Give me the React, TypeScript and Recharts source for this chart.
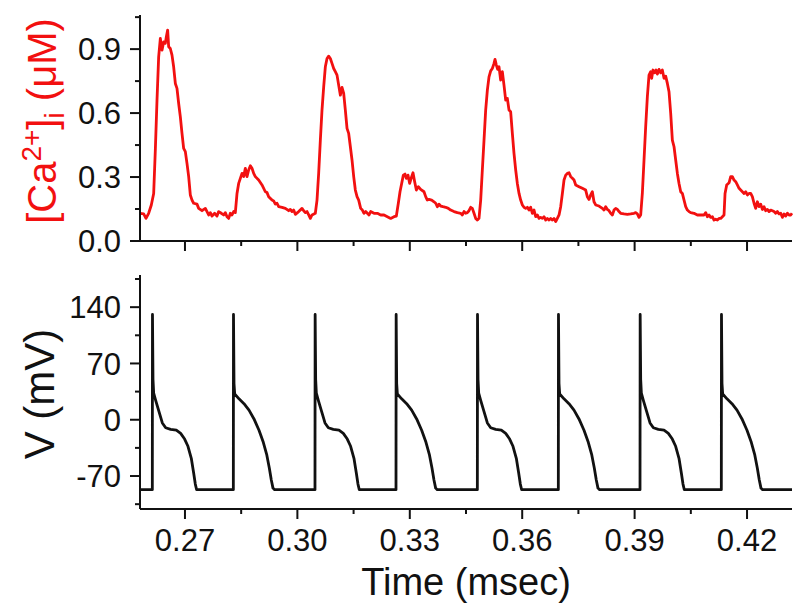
import { LineChart, Line, XAxis, YAxis, Label } from 'recharts';

const FONT = "'Liberation Sans', Arial, Helvetica, sans-serif";
const RED = '#f21010';
const INK = '#111';

// shared time axis
const timeDomain = [0.258, 0.432];
const timeTicks = [0.27, 0.285, 0.3, 0.315, 0.33, 0.345, 0.36, 0.375, 0.39, 0.405, 0.42];
const timeLabels = [0.27, 0.3, 0.33, 0.36, 0.39, 0.42];

// calcium panel
const caDomain = [0, 1.06];
const caTicks = [0, 0.15, 0.3, 0.45, 0.6, 0.75, 0.9, 1.05];
const caLabels = [0, 0.3, 0.6, 0.9];

// voltage panel
const vDomain = [-111, 180];
const vTicks = [-105, -70, -35, 0, 35, 70, 105, 140, 175];
const vLabels = [-70, 0, 70, 140];

// [Ca2+]i trace: [time, uM]
const caTrace: [number, number][] = [
  [0.258, 0.13], [0.25898, 0.127], [0.2596, 0.106], [0.26031, 0.13], [0.26102, 0.169], [0.26165, 0.223],
  [0.26209, 0.427], [0.26254, 0.661], [0.26298, 0.864], [0.26343, 0.95], [0.26387, 0.895], [0.26432, 0.934],
  [0.26476, 0.927], [0.26503, 0.958], [0.26538, 0.989], [0.26565, 0.911], [0.26609, 0.903], [0.26654, 0.872],
  [0.26698, 0.817], [0.26743, 0.739], [0.26787, 0.716], [0.26832, 0.645], [0.26876, 0.583], [0.26921, 0.505],
  [0.26965, 0.434], [0.2701, 0.419], [0.27054, 0.364], [0.27099, 0.302], [0.27143, 0.216], [0.27188, 0.192],
  [0.27232, 0.177], [0.27321, 0.173], [0.27366, 0.153], [0.27455, 0.142], [0.27544, 0.153], [0.27588, 0.138],
  [0.27633, 0.122], [0.27677, 0.133], [0.27722, 0.117], [0.27793, 0.13], [0.27855, 0.117], [0.27899, 0.138],
  [0.27971, 0.13], [0.28033, 0.122], [0.28077, 0.133], [0.28122, 0.114], [0.28166, 0.106], [0.28211, 0.13],
  [0.28255, 0.122], [0.283, 0.138], [0.28344, 0.133], [0.28389, 0.223], [0.28433, 0.27], [0.28478, 0.294],
  [0.28522, 0.317], [0.28567, 0.302], [0.28611, 0.341], [0.28656, 0.302], [0.287, 0.333], [0.28745, 0.353],
  [0.28789, 0.341], [0.28834, 0.317], [0.28878, 0.302], [0.28967, 0.286], [0.29056, 0.263], [0.29145, 0.231],
  [0.2919, 0.227], [0.29234, 0.208], [0.29323, 0.192], [0.29368, 0.188], [0.29412, 0.173], [0.29457, 0.177],
  [0.29501, 0.161], [0.2959, 0.158], [0.29679, 0.153], [0.29768, 0.142], [0.29812, 0.148], [0.29857, 0.138],
  [0.29901, 0.145], [0.29946, 0.125], [0.30035, 0.138], [0.30124, 0.153], [0.30168, 0.142], [0.30213, 0.133],
  [0.30257, 0.138], [0.30302, 0.122], [0.30346, 0.106], [0.30391, 0.122], [0.30479, 0.13], [0.30524, 0.192],
  [0.30568, 0.317], [0.30613, 0.473], [0.30657, 0.614], [0.30702, 0.723], [0.30746, 0.817], [0.30791, 0.856],
  [0.30835, 0.867], [0.3088, 0.856], [0.30924, 0.833], [0.30969, 0.809], [0.31013, 0.794], [0.31058, 0.778],
  [0.31102, 0.731], [0.31147, 0.684], [0.31191, 0.72], [0.31236, 0.692], [0.3128, 0.614], [0.31325, 0.528],
  [0.31369, 0.505], [0.31414, 0.442], [0.31458, 0.38], [0.31503, 0.302], [0.31547, 0.239], [0.31592, 0.208],
  [0.31636, 0.192], [0.31689, 0.153], [0.31734, 0.145], [0.31778, 0.13], [0.31823, 0.138], [0.31867, 0.13],
  [0.31912, 0.122], [0.31956, 0.138], [0.32045, 0.13], [0.32134, 0.13], [0.32223, 0.122], [0.32312, 0.122],
  [0.32401, 0.114], [0.3249, 0.106], [0.32579, 0.114], [0.32641, 0.117], [0.32694, 0.177], [0.32739, 0.231],
  [0.32783, 0.27], [0.32828, 0.309], [0.32872, 0.314], [0.32908, 0.294], [0.32952, 0.309], [0.32997, 0.27],
  [0.3305, 0.302], [0.33086, 0.32], [0.3313, 0.278], [0.33175, 0.239], [0.33228, 0.255], [0.3329, 0.242],
  [0.33379, 0.231], [0.33424, 0.208], [0.33468, 0.192], [0.33513, 0.195], [0.33584, 0.192], [0.33646, 0.184],
  [0.33691, 0.177], [0.33735, 0.161], [0.3378, 0.173], [0.33824, 0.164], [0.33886, 0.161], [0.33958, 0.158],
  [0.34029, 0.153], [0.34091, 0.145], [0.3418, 0.138], [0.34269, 0.133], [0.34358, 0.13], [0.34402, 0.122],
  [0.34447, 0.138], [0.34491, 0.13], [0.34536, 0.133], [0.3458, 0.142], [0.34625, 0.158], [0.34669, 0.153],
  [0.34714, 0.13], [0.34758, 0.106], [0.34803, 0.098], [0.34847, 0.106], [0.34892, 0.192], [0.34936, 0.333],
  [0.34981, 0.473], [0.35025, 0.614], [0.3507, 0.708], [0.35114, 0.77], [0.35159, 0.798], [0.35203, 0.809],
  [0.35248, 0.833], [0.35274, 0.852], [0.3531, 0.825], [0.35345, 0.805], [0.35381, 0.817], [0.35425, 0.755],
  [0.3547, 0.794], [0.35514, 0.731], [0.35559, 0.661], [0.35603, 0.669], [0.35648, 0.614], [0.35692, 0.606],
  [0.35737, 0.505], [0.35781, 0.411], [0.35826, 0.333], [0.3587, 0.27], [0.35915, 0.223], [0.35959, 0.192],
  [0.36004, 0.169], [0.36048, 0.158], [0.36093, 0.153], [0.36137, 0.158], [0.36182, 0.145], [0.36226, 0.158],
  [0.36271, 0.13], [0.36315, 0.145], [0.3636, 0.114], [0.36404, 0.122], [0.36449, 0.106], [0.36493, 0.111],
  [0.36538, 0.106], [0.36582, 0.114], [0.36627, 0.098], [0.36671, 0.106], [0.36716, 0.098], [0.3676, 0.106],
  [0.36805, 0.098], [0.36849, 0.106], [0.36894, 0.091], [0.36938, 0.106], [0.36983, 0.122], [0.37027, 0.161],
  [0.37072, 0.223], [0.37116, 0.286], [0.37161, 0.309], [0.37205, 0.317], [0.3725, 0.32], [0.37294, 0.302],
  [0.37339, 0.294], [0.37383, 0.286], [0.37428, 0.263], [0.37516, 0.255], [0.37605, 0.247], [0.37694, 0.239],
  [0.37738, 0.208], [0.37783, 0.195], [0.37827, 0.216], [0.37872, 0.231], [0.37916, 0.184], [0.37961, 0.169],
  [0.3805, 0.164], [0.38139, 0.153], [0.38183, 0.145], [0.38228, 0.161], [0.38272, 0.148], [0.38317, 0.142],
  [0.38361, 0.13], [0.38406, 0.122], [0.3845, 0.145], [0.38495, 0.153], [0.38539, 0.148], [0.38584, 0.138],
  [0.38628, 0.13], [0.38717, 0.127], [0.38806, 0.125], [0.38895, 0.127], [0.38984, 0.13], [0.39028, 0.133],
  [0.39073, 0.127], [0.39117, 0.111], [0.39162, 0.122], [0.39206, 0.223], [0.39251, 0.38], [0.39295, 0.536],
  [0.3934, 0.677], [0.39384, 0.778], [0.39429, 0.794], [0.39455, 0.763], [0.39491, 0.802], [0.39535, 0.789],
  [0.39571, 0.802], [0.39607, 0.783], [0.39651, 0.805], [0.39696, 0.789], [0.3974, 0.802], [0.39785, 0.763],
  [0.39829, 0.773], [0.39874, 0.739], [0.39918, 0.7], [0.39963, 0.598], [0.40007, 0.473], [0.40052, 0.442],
  [0.40096, 0.38], [0.40141, 0.317], [0.40185, 0.27], [0.4023, 0.231], [0.40274, 0.223], [0.40319, 0.192],
  [0.40363, 0.161], [0.40408, 0.145], [0.40452, 0.138], [0.40497, 0.133], [0.40585, 0.13], [0.40674, 0.122],
  [0.40763, 0.122], [0.40852, 0.122], [0.40897, 0.133], [0.40941, 0.114], [0.40986, 0.122], [0.4103, 0.111],
  [0.41075, 0.114], [0.41119, 0.098], [0.41164, 0.102], [0.41208, 0.098], [0.41253, 0.106], [0.41297, 0.106],
  [0.41342, 0.114], [0.41386, 0.122], [0.41413, 0.223], [0.41457, 0.263], [0.4152, 0.273], [0.41564, 0.302],
  [0.41609, 0.302], [0.41653, 0.286], [0.41698, 0.278], [0.41742, 0.263], [0.41787, 0.247], [0.41831, 0.239],
  [0.41876, 0.231], [0.4192, 0.223], [0.41965, 0.231], [0.42009, 0.216], [0.42054, 0.223], [0.42098, 0.223],
  [0.42142, 0.208], [0.42187, 0.177], [0.42231, 0.153], [0.42276, 0.184], [0.4232, 0.161], [0.42365, 0.173],
  [0.42409, 0.148], [0.42454, 0.161], [0.42498, 0.142], [0.42543, 0.148], [0.42587, 0.138], [0.42632, 0.145],
  [0.42721, 0.138], [0.42765, 0.13], [0.4281, 0.138], [0.42854, 0.127], [0.42899, 0.13], [0.42943, 0.111],
  [0.42988, 0.127], [0.43032, 0.117], [0.43077, 0.13], [0.43121, 0.122], [0.43166, 0.122], [0.432, 0.13],
];

// action potentials: upstroke times and which of the two alternating shapes each beat has
const beatOnsets = [0.26129, 0.28291, 0.3047, 0.32632, 0.34803, 0.36964, 0.39144, 0.41314];
const beatShapes = ['A', 'B', 'A', 'B', 'A', 'B', 'A', 'B'];
const restingV = -87;

// [time after upstroke, mV]
const apShapeA: [number, number][] = [
  [0, -87], [0.00004, 131], [0.00018, 50], [0.00036, 33], [0.00089, 24], [0.00178, 10], [0.00267, -4],
  [0.00356, -10], [0.00489, -12], [0.0064, -13], [0.00756, -17], [0.00862, -24], [0.00951, -33],
  [0.0104, -48], [0.01102, -66], [0.01147, -80], [0.01182, -87],
];
const apShapeB: [number, number][] = [
  [0, -87], [0.00004, 131], [0.00018, 45], [0.00036, 32], [0.00151, 26], [0.00284, 20], [0.00418, 12],
  [0.00551, 1], [0.00685, -13], [0.008, -28], [0.00889, -43], [0.0096, -60], [0.01013, -75],
  [0.01058, -85], [0.01102, -87],
];

const caData = caTrace.map(([t, ca]) => ({ t, ca }));

const vData: { t: number; v: number }[] = [{ t: timeDomain[0], v: restingV }];
beatOnsets.forEach((t0, i) => {
  const shape = beatShapes[i] === 'A' ? apShapeA : apShapeB;
  shape.forEach(([dt, v]) => vData.push({ t: +(t0 + dt).toFixed(5), v }));
});
vData.push({ t: timeDomain[1], v: restingV });

const isOneOf = (list: number[], value: number) => list.some((l) => Math.abs(l - value) < 1e-9);

function yTick(labels: number[], fmt: (v: number) => string) {
  return (props: any) => {
    const { x, y, payload } = props;
    const major = isOneOf(labels, payload.value);
    return (
      <g>
        <line x1={x - (major ? 10 : 5)} x2={x} y1={y} y2={y} stroke={INK} strokeWidth={2} />
        {major && (
          <text x={x - 19} y={y} dy="0.36em" textAnchor="end" fontSize={31} fontFamily={FONT} fill={INK}>
            {fmt(payload.value)}
          </text>
        )}
      </g>
    );
  };
}

function xTick(withText: boolean) {
  return (props: any) => {
    const { x, y, payload } = props;
    const major = isOneOf(timeLabels, payload.value);
    return (
      <g>
        <line x1={x} x2={x} y1={y} y2={y + (major ? 10 : 5)} stroke={INK} strokeWidth={2} />
        {withText && major && (
          <text x={x} y={y + 42} textAnchor="middle" fontSize={31} fontFamily={FONT} fill={INK}>
            {payload.value.toFixed(2)}
          </text>
        )}
      </g>
    );
  };
}

function CaTitle(props: any) {
  const vb = props.viewBox;
  const cx = vb.x + 56;
  const cy = vb.y + vb.height / 2 - 7;
  return (
    <text transform={`translate(${cx},${cy}) rotate(-90)`} textAnchor="middle" fontSize={40} fontFamily={FONT} fill={RED}>
      [Ca
      <tspan dy={-15} fontSize={28}>2+</tspan>
      <tspan dy={15}>]</tspan>
      <tspan dy={8} fontSize={28}>i</tspan>
      <tspan dy={-8}> (μM)</tspan>
    </text>
  );
}

function VTitle(props: any) {
  const vb = props.viewBox;
  const cx = vb.x + 54;
  const cy = vb.y + vb.height / 2 + 2;
  return (
    <text transform={`translate(${cx},${cy}) rotate(-90)`} textAnchor="middle" fontSize={42} fontFamily={FONT} fill={INK}>
      V (mV)
    </text>
  );
}

const axisLine = { stroke: INK, strokeWidth: 2 };

export default function App() {
  return (
    <div style={{ position: 'absolute', left: 0, top: 0, width: 800, height: 607, background: '#fff' }}>
      <div style={{ position: 'absolute', left: 0, top: 0 }}>
        <LineChart width={800} height={260} data={caData} margin={{ top: 15, right: 8, bottom: 0, left: 0 }}>
          <XAxis
            dataKey="t" type="number" domain={timeDomain} ticks={timeTicks} interval={0}
            height={19} axisLine={axisLine} tickLine={false} tickSize={0} tickMargin={0} tick={xTick(false)}
          />
          <YAxis
            type="number" domain={caDomain} ticks={caTicks} interval={0} width={140}
            axisLine={axisLine} tickLine={false} tickSize={0} tickMargin={0}
            tick={yTick(caLabels, (v) => v.toFixed(1))}
          >
            <Label content={(p: any) => <CaTitle {...p} />} />
          </YAxis>
          <Line
            dataKey="ca" type="linear" stroke={RED} strokeWidth={2.8} dot={false}
            strokeLinejoin="round" isAnimationActive={false}
          />
        </LineChart>
      </div>
      <div style={{ position: 'absolute', left: 0, top: 260 }}>
        <LineChart width={800} height={347} data={vData} margin={{ top: 15, right: 8, bottom: 0, left: 0 }}>
          <XAxis
            dataKey="t" type="number" domain={timeDomain} ticks={timeTicks} interval={0}
            height={98} axisLine={axisLine} tickLine={false} tickSize={0} tickMargin={0} tick={xTick(true)}
          >
            <Label value="Time (msec)" position="insideBottom" offset={12} fontSize={38} fontFamily={FONT} fill={INK} />
          </XAxis>
          <YAxis
            type="number" domain={vDomain} ticks={vTicks} interval={0} width={140}
            axisLine={axisLine} tickLine={false} tickSize={0} tickMargin={0}
            tick={yTick(vLabels, (v) => String(v))}
          >
            <Label content={(p: any) => <VTitle {...p} />} />
          </YAxis>
          <Line
            dataKey="v" type="linear" stroke={INK} strokeWidth={2.8} dot={false}
            strokeLinejoin="round" isAnimationActive={false}
          />
        </LineChart>
      </div>
    </div>
  );
}
